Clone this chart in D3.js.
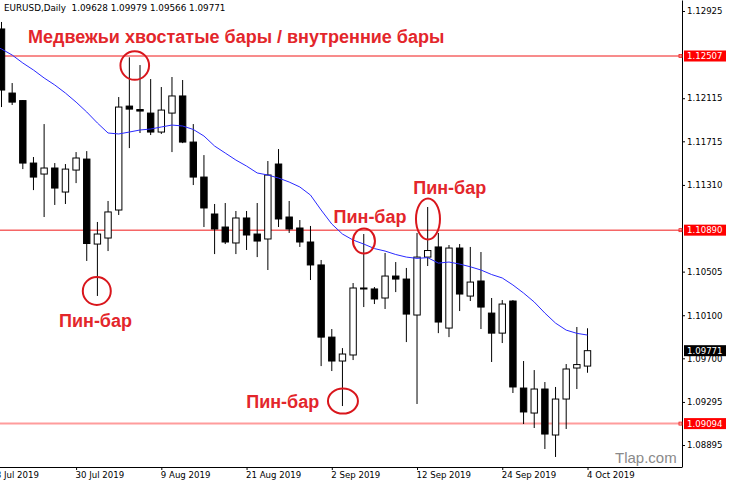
<!DOCTYPE html>
<html>
<head>
<meta charset="utf-8">
<script src="https://cdn.jsdelivr.net/npm/d3@7"></script>
<style>
body { margin: 0; background: #fff; }
svg { display: block; font-family: "DejaVu Sans", sans-serif; }
</style>
</head>
<body>
<svg id="chart" width="729" height="484"></svg>
<script>
// trading days, 18 Jul is off the left edge (only its axis label shows)
const dates = ["18 Jul 2019","19 Jul 2019","22 Jul 2019","23 Jul 2019","24 Jul 2019","25 Jul 2019","26 Jul 2019","29 Jul 2019","30 Jul 2019","31 Jul 2019",
  "1 Aug 2019","2 Aug 2019","5 Aug 2019","6 Aug 2019","7 Aug 2019","8 Aug 2019","9 Aug 2019","12 Aug 2019","13 Aug 2019","14 Aug 2019","15 Aug 2019","16 Aug 2019",
  "19 Aug 2019","20 Aug 2019","21 Aug 2019","22 Aug 2019","23 Aug 2019","26 Aug 2019","27 Aug 2019","28 Aug 2019","29 Aug 2019","30 Aug 2019",
  "2 Sep 2019","3 Sep 2019","4 Sep 2019","5 Sep 2019","6 Sep 2019","9 Sep 2019","10 Sep 2019","11 Sep 2019","12 Sep 2019","13 Sep 2019","16 Sep 2019",
  "17 Sep 2019","18 Sep 2019","19 Sep 2019","20 Sep 2019","23 Sep 2019","24 Sep 2019","25 Sep 2019","26 Sep 2019","27 Sep 2019","30 Sep 2019",
  "1 Oct 2019","2 Oct 2019","3 Oct 2019","4 Oct 2019"];

// candles start at 19 Jul
const open = [1.12758,1.12163,1.12093,1.11513,1.11411,1.11467,1.11244,1.11448,1.11550,1.10761,
  1.10817,1.11077,1.12042,1.12010,1.11977,1.11801,1.11977,1.12136,1.11708,1.11383,
  1.11040,1.10919,1.10771,1.11003,1.10854,1.10808,1.11504,1.11012,1.10910,1.10780,
  1.10567,1.09897,1.09675,1.09731,1.10353,1.10344,1.10260,1.10464,1.10436,1.10102,
  1.10640,1.10734,1.09981,1.10724,1.10278,1.10418,1.10120,1.09934,1.10232,1.09424,
  1.09192,1.09415,1.08988,1.09322,1.09610,1.09628];
const high = [1.12823,1.12256,1.12098,1.11569,1.11875,1.11513,1.11504,1.11615,1.11624,1.10966,
  1.11161,1.12126,1.12495,1.12423,1.12293,1.12219,1.12312,1.12284,1.11875,1.11587,
  1.11133,1.11142,1.11068,1.11068,1.11142,1.11532,1.11643,1.11161,1.10984,1.10929,
  1.10613,1.09972,1.09795,1.10399,1.10854,1.10362,1.10678,1.10594,1.10539,1.10864,
  1.11105,1.10864,1.10752,1.10761,1.10734,1.10687,1.10260,1.10241,1.10241,1.09675,
  1.09591,1.09480,1.09434,1.09647,1.09991,1.09979];
const low = [1.12033,1.12052,1.11457,1.11262,1.11012,1.11124,1.11133,1.11327,1.10604,1.10279,
  1.10696,1.11031,1.11652,1.11792,1.11773,1.11783,1.11615,1.11698,1.11309,1.10919,
  1.10668,1.10761,1.10668,1.10706,1.10640,1.10520,1.10919,1.10864,1.10734,1.10427,
  1.09628,1.09582,1.09257,1.09684,1.10176,1.10204,1.10158,1.10315,1.09851,1.09276,
  1.10557,1.09934,1.09897,1.10139,1.10232,1.09972,1.09666,1.09842,1.09378,1.09090,
  1.09053,1.08858,1.08784,1.09044,1.09415,1.09566];
const close = [1.12191,1.12079,1.11513,1.11383,1.11467,1.11281,1.11457,1.11560,1.10766,1.10854,
  1.11059,1.12033,1.12014,1.11996,1.11801,1.12005,1.12136,1.11708,1.11383,1.11096,
  1.10901,1.10780,1.11003,1.10845,1.10789,1.11402,1.10994,1.10901,1.10780,1.10567,
  1.09897,1.09675,1.09740,1.10353,1.10344,1.10251,1.10464,1.10436,1.10111,1.10640,
  1.10701,1.10037,1.10724,1.10297,1.10408,1.10176,1.09934,1.10204,1.09434,1.09202,
  1.09415,1.08997,1.09322,1.09601,1.09642,1.09771];

// moving average, one value per date (incl. 18 Jul)
const maValues = [1.12618,1.12572,1.12516,1.12442,1.12377,1.12303,1.12238,1.12163,1.12079,1.11987,
  1.11885,1.11792,1.11783,1.11801,1.11820,1.11829,1.11848,1.11866,1.11857,1.11825,
  1.11764,1.11671,1.11606,1.11541,1.11485,1.11421,1.11402,1.11374,1.11337,1.11291,
  1.11216,1.11077,1.10947,1.10854,1.10798,1.10761,1.10719,1.10696,1.10664,1.10640,
  1.10628,1.10635,1.10584,1.10594,1.10575,1.10550,1.10520,1.10478,1.10446,1.10381,
  1.10306,1.10223,1.10120,1.10027,1.09962,1.09932,1.09916];

const priceTicks = [1.12925,1.12115,1.11715,1.11310,1.10505,1.10100,1.09700,1.09295,1.08895];
const levels = [1.12507,1.10890,1.09094];
const dateTicks = ["18 Jul 2019","30 Jul 2019","9 Aug 2019","21 Aug 2019","2 Sep 2019","12 Sep 2019","24 Sep 2019","4 Oct 2019"];

const headerText = "EURUSD,Daily  1.09628 1.09979 1.09566 1.09771";
const titleText = "Медвежьи хвостатые бары / внутренние бары";
const pinText = "Пин-бар";

// layout
const plotW = 682, plotH = 467;
const red = "#e3262b";

const svg = d3.select("#chart");

let x = d3.scalePoint().domain(dates).range([-9.15, 587.5]);
let y = d3.scaleLinear().domain([1.08691, 1.13027]).range([plotH, 0]);

let candles = open.map((o, i) => ({
  date: dates[i + 1], o: o, h: high[i], l: low[i], c: close[i]
}));

svg.append("clipPath").attr("id", "plot")
  .append("rect").attr("width", plotW).attr("height", plotH);

let plot = svg.append("g").attr("clip-path", "url(#plot)");

// level lines
plot.selectAll(".level")
  .data(levels)
  .enter().append("line")
  .attr("x1", 0).attr("x2", plotW)
  .attr("y1", d => y(d)).attr("y2", d => y(d))
  .attr("stroke", (d, i) => i == 2 ? "#ff9c9c" : "#f01818")
  .attr("stroke-width", (d, i) => i == 2 ? 2 : 1);

// wicks
plot.selectAll(".wick")
  .data(candles)
  .enter().append("line")
  .attr("x1", d => x(d.date)).attr("x2", d => x(d.date))
  .attr("y1", d => y(d.h)).attr("y2", d => y(d.l))
  .attr("stroke", "#000").attr("stroke-width", 1);

// bodies
plot.selectAll(".body")
  .data(candles)
  .enter().append("rect")
  .attr("x", d => x(d.date) - 3.2)
  .attr("width", 6.4)
  .attr("y", d => y(Math.max(d.o, d.c)))
  .attr("height", d => Math.max(1, Math.abs(y(d.o) - y(d.c))))
  .attr("fill", d => d.c >= d.o ? "#fff" : "#000")
  .attr("stroke", "#000").attr("stroke-width", 1);

// moving average
let maLine = d3.line()
  .x((d, i) => x(dates[i]))
  .y(d => y(d));

plot.append("path")
  .datum(maValues)
  .attr("d", maLine)
  .attr("fill", "none")
  .attr("stroke", "#2a2aff")
  .attr("stroke-width", 1);

// right price axis
let yAxis = svg.append("g")
  .attr("transform", "translate(" + plotW + ",0)")
  .call(d3.axisRight(y).tickValues(priceTicks).tickSize(3).tickSizeOuter(0).tickFormat(d3.format(".5f")));
yAxis.select(".domain").attr("stroke", "#000");
yAxis.selectAll("text")
  .attr("x", 5)
  .style("font-family", "DejaVu Sans")
  .style("font-size", "8.6px")
  .attr("fill", "#000");

// boxes on the price axis
let boxes = levels.map(v => ({v: v, bg: "#ff0000"}));
boxes.push({v: close[close.length - 1], bg: "#000"});

let box = svg.selectAll(".pbox")
  .data(boxes)
  .enter().append("g")
  .attr("transform", d => "translate(" + (plotW + 2) + "," + y(d.v) + ")");
box.append("rect")
  .attr("x", 0).attr("y", -5.5)
  .attr("width", 42).attr("height", 11)
  .attr("fill", d => d.bg);
box.append("text")
  .attr("x", 3).attr("y", 0)
  .attr("dy", "0.34em")
  .style("font-size", "8.6px")
  .attr("fill", "#fff")
  .text(d => d3.format(".5f")(d.v));

// little markers where level lines meet the axis
svg.selectAll(".lmark")
  .data(levels)
  .enter().append("rect")
  .attr("x", plotW - 3).attr("y", d => y(d) - 1.5)
  .attr("width", 3).attr("height", 3)
  .attr("fill", "none").attr("stroke", "#f01818").attr("stroke-width", 0.8);

// bottom time axis
svg.append("line")
  .attr("x1", 0).attr("x2", plotW)
  .attr("y1", plotH + 0.5).attr("y2", plotH + 0.5)
  .attr("stroke", "#000");

let xAxis = svg.append("g")
  .attr("transform", "translate(0," + plotH + ")")
  .call(d3.axisBottom(x).tickValues(dateTicks).tickSize(3).tickSizeOuter(0));
xAxis.select(".domain").remove();
xAxis.selectAll("text")
  .attr("text-anchor", "start")
  .attr("x", -1)
  .attr("y", 5)
  .attr("dy", "0.71em")
  .style("font-family", "DejaVu Sans")
  .style("font-size", "8.6px")
  .attr("fill", "#000");

// header
svg.append("text")
  .attr("x", 4).attr("y", 11)
  .style("font-size", "8.8px")
  .attr("xml:space", "preserve")
  .style("white-space", "pre")
  .text(headerText);

// annotations
let ann = svg.append("g")
  .style("font-family", "'Liberation Sans', Arial, sans-serif")
  .style("font-weight", "bold")
  .style("font-size", "18px")
  .attr("fill", red);

ann.append("text").attr("x", 28).attr("y", 43).text(titleText);

let pinLabels = [[95.5, 327], [282.7, 407.5], [370, 223], [449.7, 193.5]];
ann.selectAll(".pin")
  .data(pinLabels)
  .enter().append("text")
  .attr("x", d => d[0]).attr("y", d => d[1])
  .attr("text-anchor", "middle")
  .text(pinText);

// circles: [date, price, dx, rx, ry]
let rings = [
  ["6 Aug 2019", 1.12419, 5.4, 14.3, 14.3],
  ["1 Aug 2019", 1.10325, -0.6, 14, 14],
  ["3 Sep 2019", 1.09303, 0.5, 15, 12.5],
  ["5 Sep 2019", 1.10789, 0.2, 11, 12.5],
  ["13 Sep 2019", 1.10993, 0.3, 12, 20.5]
];
svg.selectAll(".ring")
  .data(rings)
  .enter().append("ellipse")
  .attr("cx", d => x(d[0]) + d[2])
  .attr("cy", d => y(d[1]))
  .attr("rx", d => d[3]).attr("ry", d => d[4])
  .attr("fill", "none")
  .attr("stroke", "#d9161c")
  .attr("stroke-width", 2);

// watermark
svg.append("text")
  .attr("x", 615).attr("y", 463)
  .style("font-family", "'Liberation Sans', Arial, sans-serif")
  .style("font-size", "15px")
  .attr("fill", "#8a8a8a")
  .text("Tlap.com");
</script>
</body>
</html>
